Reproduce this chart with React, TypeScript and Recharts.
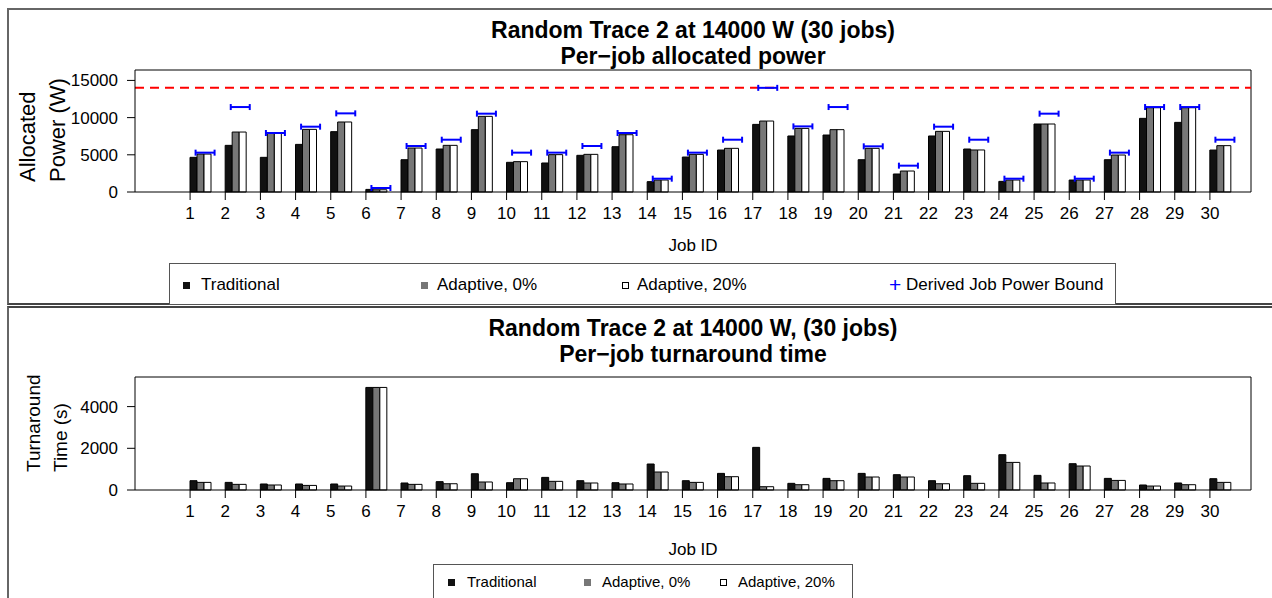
import React from "react";
import { ComposedChart, Bar, Scatter, XAxis, YAxis, ReferenceLine, CartesianGrid } from "recharts";

const jobIds = Array.from({ length: 30 }, (_, i) => String(i + 1));

// Per-job allocated power (W)
const powerTraditional = [4660, 6270, 4660, 6400, 8110, 350, 4340, 5780, 8380, 3990, 3900, 4930, 6090, 1390, 4700, 5640, 9090, 7530, 7660, 4340, 2420, 7530, 5780, 1430, 9140, 1610, 4340, 9900, 9360, 5640];
const powerAdaptive0 = [5100, 8060, 7980, 8420, 9410, 300, 5910, 6270, 10170, 4080, 5020, 5060, 7700, 1610, 5060, 5870, 9540, 8550, 8380, 5870, 2820, 8150, 5650, 1610, 9140, 1610, 4970, 11330, 11330, 6230];
const powerAdaptive20 = [5100, 8060, 7980, 8420, 9410, 300, 5910, 6270, 10170, 4080, 5020, 5060, 7700, 1610, 5060, 5870, 9540, 8550, 8380, 5870, 2820, 8150, 5650, 1610, 9140, 1610, 4970, 11330, 11330, 6230];
const powerBound = [5290, 11420, 7930, 8780, 10570, 540, 6180, 7030, 10530, 5290, 5290, 6180, 7930, 1790, 5290, 7030, 14000, 8820, 11420, 6140, 3540, 8780, 7030, 1790, 10530, 1790, 5290, 11420, 11420, 7030];
const systemBound = 14000;

// Per-job turnaround time (s)
const timeTraditional = [446, 365, 288, 288, 288, 4920, 336, 400, 780, 350, 605, 446, 350, 1247, 446, 797, 2045, 320, 557, 797, 734, 446, 686, 1693, 702, 1261, 557, 240, 336, 542];
const timeAdaptive0 = [365, 270, 240, 220, 190, 4920, 270, 300, 384, 540, 415, 336, 288, 863, 365, 638, 158, 254, 446, 623, 623, 300, 320, 1324, 336, 1151, 460, 190, 254, 365];
const timeAdaptive20 = [365, 270, 240, 220, 190, 4920, 270, 300, 384, 540, 415, 336, 288, 863, 365, 638, 158, 254, 446, 623, 623, 300, 320, 1324, 336, 1151, 460, 190, 254, 365];

const powerTicks = [0, 5000, 10000, 15000];
const timeTicks = [0, 2000, 4000];

const FONT = "'Liberation Sans', Arial, Helvetica, sans-serif";
const BLACK = "#111";
const GRAY = "#777";

const powerData = jobIds.map((job, i) => ({
  job,
  traditional: powerTraditional[i],
  adaptive0: powerAdaptive0[i],
  adaptive20: powerAdaptive20[i],
  bound: powerBound[i],
}));

const timeData = jobIds.map((job, i) => ({
  job,
  traditional: timeTraditional[i],
  adaptive0: timeAdaptive0[i],
  adaptive20: timeAdaptive20[i],
}));

// ticks sit at the left edge of each bar group
const JobTick = (props: any) => {
  const { x, y, payload } = props;
  const tx = x - 10.5;
  return (
    <g>
      <line x1={tx} y1={y} x2={tx} y2={y + 8} stroke="#000" />
      <text x={tx} y={y + 27} textAnchor="middle" fontSize={17} fill="#000" fontFamily={FONT}>
        {payload.value}
      </text>
    </g>
  );
};

const BoundMark = (props: any) => {
  const { cx, cy } = props;
  if (cx == null || cy == null) return null;
  const c = cx + 4.5;
  return (
    <g stroke="#0000ff" strokeWidth={2}>
      <line x1={c - 9.5} y1={cy} x2={c + 9.5} y2={cy} />
      <line x1={c - 9.5} y1={cy - 3} x2={c - 9.5} y2={cy + 3} />
      <line x1={c + 9.5} y1={cy - 3} x2={c + 9.5} y2={cy + 3} />
    </g>
  );
};

type PanelProps = {
  data: any[];
  height: number;
  top: number;
  xAxisHeight: number;
  domainMax: number;
  ticks: number[];
  yLabel: string[];
  yLabelX: number[];
  yLabelSize: number;
  yLabelEnd: number;
  jobLabelY: number;
  withBound?: boolean;
};

function Panel({ data, height, top, xAxisHeight, domainMax, ticks, yLabel, yLabelX, yLabelSize, yLabelEnd, jobLabelY, withBound }: PanelProps) {
  return (
    <ComposedChart
      width={1272}
      height={height}
      data={data}
      margin={{ top, right: 21, bottom: 0, left: 0 }}
      barGap={0}
      style={{ fontFamily: FONT }}
    >
      {/* top and right edges of the plot box */}
      <CartesianGrid
        stroke="#000"
        strokeWidth={1}
        horizontalCoordinatesGenerator={(p: any) => [p && p.offset ? p.offset.top : top]}
        verticalCoordinatesGenerator={(p: any) => [p && p.offset ? p.offset.left + p.offset.width : 1251]}
      />
      <XAxis
        dataKey="job"
        interval={0}
        height={xAxisHeight}
        padding={{ left: 48, right: 13 }}
        tickSize={0}
        tickMargin={0}
        tickLine={false}
        axisLine={{ stroke: "#000" }}
        tick={<JobTick />}
        label={{
          content: (p: any) => (
            <text
              x={p.viewBox.x + p.viewBox.width / 2}
              y={jobLabelY + 6}
              textAnchor="middle"
              fontSize={17}
              fill="#000"
              fontFamily={FONT}
            >
              Job ID
            </text>
          ),
        }}
      />
      <YAxis
        width={135}
        domain={[0, domainMax]}
        ticks={ticks}
        interval={0}
        tickSize={8}
        tickMargin={9}
        tickLine={{ stroke: "#000" }}
        axisLine={{ stroke: "#000" }}
        tick={{ fill: "#000", fontSize: 17, fontFamily: FONT }}
        label={{
          content: () => (
            <g>
              {yLabel.map((line, i) => (
                <text
                  key={line}
                  transform={`translate(${yLabelX[i]}, ${yLabelEnd}) rotate(-90)`}
                  textAnchor="start"
                  dominantBaseline="central"
                  fontSize={yLabelSize}
                  fill="#000"
                  fontFamily={FONT}
                >
                  {line}
                </text>
              ))}
            </g>
          ),
        }}
      />
      {withBound && (
        <ReferenceLine y={systemBound} stroke="#ff0000" strokeWidth={2} strokeDasharray="9 6" />
      )}
      <Bar dataKey="traditional" barSize={7} fill={BLACK} stroke="#000" strokeWidth={1} isAnimationActive={false} />
      <Bar dataKey="adaptive0" barSize={7} fill={GRAY} stroke="#000" strokeWidth={1} isAnimationActive={false} />
      <Bar dataKey="adaptive20" barSize={7} fill="#fff" stroke="#000" strokeWidth={1} isAnimationActive={false} />
      {withBound && <Scatter dataKey="bound" shape={<BoundMark />} isAnimationActive={false} />}
    </ComposedChart>
  );
}

const Swatch = ({ kind }: { kind: string }) => {
  if (kind === "plus")
    return <span style={{ color: "#0000ff", fontSize: 21, lineHeight: "16px" }}>+</span>;
  const bg = kind === "black" ? BLACK : kind === "gray" ? GRAY : "#fff";
  return (
    <span
      style={{
        display: "inline-block",
        width: kind === "white" ? 5 : 7,
        height: kind === "white" ? 5 : 7,
        background: bg,
        border: kind === "white" ? "1px solid #000" : "none",
      }}
    />
  );
};

type LegendItem = { label: string; kind: string; sx: number; tx: number };

const LegendBox = ({ left, top, width, height, items, fontSize, rowY }: { left: number; top: number; width: number; height: number; items: LegendItem[]; fontSize: number; rowY: number }) => (
  <div style={{ position: "absolute", left, top, width, height, border: "1px solid #555", background: "#fff", boxSizing: "border-box" }}>
    {items.map((it) => (
      <React.Fragment key={it.label}>
        <div style={{ position: "absolute", left: it.sx - left, top: rowY - top - 8, height: 16, display: "flex", alignItems: "center" }}>
          <Swatch kind={it.kind} />
        </div>
        <div style={{ position: "absolute", left: it.tx - left, top: rowY - top - 10, fontSize, lineHeight: "20px", whiteSpace: "nowrap" }}>
          {it.label}
        </div>
      </React.Fragment>
    ))}
  </div>
);

const Title = ({ lines, top }: { lines: string[]; top: number }) => (
  <div style={{ position: "absolute", left: 135, width: 1116, top, textAlign: "center", fontWeight: "bold", fontSize: 23, lineHeight: "26px" }}>
    {lines.map((l) => (
      <div key={l}>{l}</div>
    ))}
  </div>
);

export default function App() {
  return (
    <div style={{ position: "absolute", left: 0, top: 0, width: 1272, height: 598, overflow: "hidden", background: "#fff", fontFamily: FONT, color: "#000" }}>
      {/* panel frames */}
      <div style={{ position: "absolute", left: 7, top: 8, width: 1280, height: 297, borderLeft: "2px solid #666", borderTop: "2px solid #666", borderBottom: "2px solid #444", boxSizing: "border-box" }} />
      <div style={{ position: "absolute", left: 7, top: 306, width: 1280, height: 320, borderLeft: "2px solid #666", borderTop: "2px solid #444", boxSizing: "border-box" }} />

      <div style={{ position: "absolute", left: 0, top: 0 }}>
        <Panel
          data={powerData}
          height={300}
          top={70}
          xAxisHeight={108}
          domainMax={16400}
          ticks={powerTicks}
          yLabel={["Allocated", "Power (W)"]}
          yLabelX={[27, 57]}
          yLabelSize={22}
          yLabelEnd={182}
          jobLabelY={245}
          withBound
        />
      </div>
      <div style={{ position: "absolute", left: 0, top: 305 }}>
        <Panel
          data={timeData}
          height={293}
          top={72}
          xAxisHeight={108}
          domainMax={5420}
          ticks={timeTicks}
          yLabel={["Turnaround", "Time (s)"]}
          yLabelX={[33, 60]}
          yLabelSize={19}
          yLabelEnd={472 - 305}
          jobLabelY={549 - 305}
          withBound={false}
        />
      </div>

      <Title lines={["Random Trace 2 at 14000 W (30 jobs)", "Per\u2212job allocated power"]} top={17} />
      <Title lines={["Random Trace 2 at 14000 W, (30 jobs)", "Per\u2212job turnaround time"]} top={315} />

      <LegendBox
        left={169}
        top={263}
        width={947}
        height={42}
        fontSize={17}
        rowY={284}
        items={[
          { label: "Traditional", kind: "black", sx: 182, tx: 200 },
          { label: "Adaptive, 0%", kind: "gray", sx: 420, tx: 436 },
          { label: "Adaptive, 20%", kind: "white", sx: 621, tx: 636 },
          { label: "Derived Job Power Bound", kind: "plus", sx: 888, tx: 905 },
        ]}
      />
      <LegendBox
        left={433}
        top={564}
        width={420}
        height={50}
        fontSize={15}
        rowY={581}
        items={[
          { label: "Traditional", kind: "black", sx: 447, tx: 466 },
          { label: "Adaptive, 0%", kind: "gray", sx: 583, tx: 601 },
          { label: "Adaptive, 20%", kind: "white", sx: 719, tx: 737 },
        ]}
      />
    </div>
  );
}
